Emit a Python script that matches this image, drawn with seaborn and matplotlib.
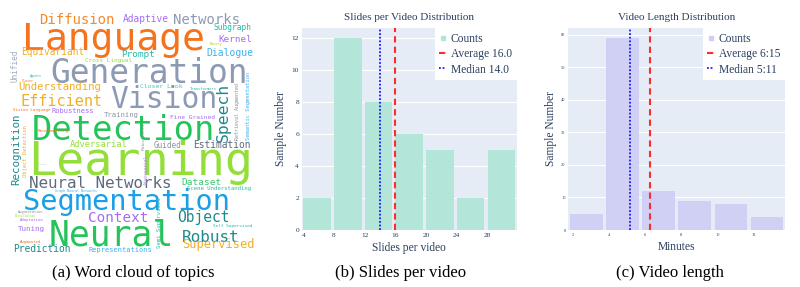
import numpy as np
import pandas as pd
import matplotlib
matplotlib.use("Agg")
import matplotlib.pyplot as plt
import seaborn as sns
from matplotlib.lines import Line2D

sns.set_theme(style="white")

# ---------------- data ----------------
slides_edges = [3.8, 7.8, 11.8, 15.8, 19.8, 23.8, 27.8, 31.8]
slides_counts = [2, 12, 8, 6, 5, 2, 5]
slides_avg = 16.0
slides_median = 14.0
slides_xticks = [4, 8, 12, 16, 20, 24, 28]
slides_yticks = [0, 2, 4, 6, 8, 10, 12]

length_edges = [1.75, 3.75, 5.75, 7.75, 9.75, 11.75, 13.75]
length_counts = [5, 59, 12, 9, 8, 4]
length_avg = 6.25      # 6:15
length_median = 5 + 11 / 60  # 5:11
length_xticks = [2, 4, 6, 8, 10, 12]
length_yticks = [0, 10, 20, 30, 40, 50, 60]

words = ["Language", "Generation", "Learning", "Detection", "Segmentation", "Neural",
         "Vision", "Neural Networks", "Diffusion", "Networks", "Efficient", "Speech",
         "Robust", "Object", "Context", "Supervised", "Understanding", "Recognition",
         "Equivariant", "Dialogue", "Prompt", "Kernel", "Adaptive", "Estimation",
         "Prediction", "Adversarial", "Dataset", "Guided", "Subgraph", "Training",
         "Robustness", "Representations", "Tuning", "Closer Look", "Fine Grained",
         "Cross Lingual", "Scene Understanding", "Unified", "Semantic Segmentation",
         "Retrieval Augmented", "Semi Supervised", "Object Detection", "Self Supervised",
         "Vision Language", "Benchmarking", "Transformers", "Graph Neural Networks",
         "Binary", "Agents", "Closer", "Active", "Augmentation", "Distillation",
         "Adaptation", "Augmented", "Robustness", "Adversarial"]

# ---------------- word cloud layout (pixel space of panel a) ----------------
OR = "#f4731c"; OR2 = "#f58a2c"; GB = "#8c9ab3"; LI = "#94de3a"; GR = "#24c45a"
BL = "#1a9fe8"; PU = "#a46cf2"; TE = "#26b8ae"; YE = "#f0ae26"; LB = "#3cb2f0"
DT = "#1f8a8c"; DG = "#5d6a7e"; GY = "#8a93a0"
word_layout = [
    (21.7, 50, 183, 0, OR), (50, 83, 198, 0, GB), (28.3, 175, 225, 0, LI),
    (31.7, 140, 183, 0, GR), (23.3, 210, 207, 0, BL), (48.3, 245, 125, 0, GR),
    (110, 107.5, 107, 0, GB), (29.3, 188.3, 144, 0, DG), (39.3, 24, 76, 0, OR2),
    (173, 24, 67, 0, GB), (20, 106, 82, 0, YE), (228, 141.7, 59, 90, DT),
    (181.7, 241.7, 58, 0, DT), (176.7, 221.7, 53, 0, DT), (88.3, 221.7, 60, 0, PU),
    (181.7, 248.3, 72, 0, YE), (18.3, 90, 83, 0, YE), (19, 185, 72, 90, DT),
    (20.7, 55, 63, 0, YE), (206, 55.7, 47, 0, LB), (120.7, 56.7, 34, 0, TE),
    (218, 41.7, 34, 0, PU), (122.7, 21.7, 46, 0, PU), (193.3, 148.3, 58, 0, DG),
    (13.3, 252.3, 58, 0, DT), (70, 146.7, 58, 0, LI), (181.7, 185, 40, 0, "#3cc86e"),
    (153.3, 148.3, 28, 0, GY), (213, 30, 38, 0, TE), (103.3, 117, 35, 0, GY),
    (51.7, 113.3, 43, 0, PU), (88.3, 251.7, 63, 0, LB), (18.3, 231, 27, 0, PU),
    (140, 88, 42, 0, "#4cc2c0"), (170, 119.3, 45, 0, PU), (85, 62.3, 47, 0, LI),
    (186.7, 190, 65, 0, TE), (17, 81.7, 32, 90, "#a0aac0"), (250, 140, 68, 90, LB),
    (239, 140, 57, 90, GY), (161, 248.3, 51, 90, TE), (27, 176.7, 52, 90, YE),
    (213.3, 226.7, 39, 0, TE), (12.7, 110.5, 37, 0, OR), (38, 131.7, 32, 0, OR),
    (190, 90, 27, 0, TE), (55, 191.7, 43, 0, LB), (210, 44.5, 13, 0, "#b8d02a"),
    (30, 76.5, 12, 0, TE), (21.7, 82, 12, 0, OR), (38, 165, 9, 0, "#b0b8c4"),
    (18, 213, 25, 0, GY), (15, 216.7, 22, 0, LI), (20, 221, 23, 0, PU),
    (20, 242.7, 22, 0, OR), (145, 150, 27, 90, "#9a90b0"), (147.5, 185, 30, 90, "#b090e0"),
]

FIG_W, FIG_H = 800, 287
fig = plt.figure(figsize=(8.0, 2.87), dpi=100)

serif = ["Liberation Serif", "DejaVu Serif"]
txt_col = "#2a3f5f"

# ---------------- panel a: word cloud ----------------
axa = fig.add_axes([0, (FIG_H - 260) / FIG_H, 270 / FIG_W, 260 / FIG_H])
axa.set_xlim(0, 270)
axa.set_ylim(260, 0)
axa.axis("off")
for w, (x, y, wid, rot, col) in zip(words, word_layout):
    fs = wid / len(w) / 0.602 * 72 / 100
    axa.text(x, y, w, fontsize=fs, color=col, family="DejaVu Sans Mono",
             rotation=rot, rotation_mode="anchor", ha="left", va="baseline")


def hist_panel(rect, edges, counts, avg, med, xticks, yticks, ylim, color,
               title, xlabel, avg_lbl, med_lbl, tick_fs):
    ax = fig.add_axes(rect)
    centers = [(edges[i] + edges[i + 1]) / 2 for i in range(len(counts))]
    df = pd.DataFrame({"x": centers, "n": counts})
    sns.histplot(data=df, x="x", weights="n", bins=edges, shrink=0.9, color=color,
                 alpha=1, edgecolor="none", linewidth=0, ax=ax)
    ax.set_facecolor("#e5ecf6")
    ax.grid(axis="y", color="white", linewidth=0.8)
    ax.set_axisbelow(True)
    for s in ax.spines.values():
        s.set_visible(False)
    ax.set_xlim(edges[0], edges[-1])
    ax.set_ylim(*ylim)
    ax.set_xticks(xticks)
    ax.set_yticks(yticks)
    ax.tick_params(length=0, labelsize=tick_fs, labelcolor=txt_col, pad=2)
    for lab in ax.get_xticklabels() + ax.get_yticklabels():
        lab.set_family(serif)
    ax.axvline(med, color="#1a1aff", linestyle=(0, (1, 1)), linewidth=1.3)
    ax.axvline(avg, color="#ff2a2a", linestyle=(0, (3, 2)), linewidth=1.5)
    ax.set_title(title, fontsize=8, color=txt_col, family=serif, pad=6)
    ax.set_xlabel(xlabel, fontsize=8.3, color=txt_col, family=serif, labelpad=3)
    ax.set_ylabel("Sample Number", fontsize=8.3, color=txt_col, family=serif, labelpad=3)
    handles = [
        Line2D([], [], marker="s", markersize=2.5, linestyle="none", color=color),
        Line2D([], [], color="#ff2a2a", linestyle=(0, (3, 2)), linewidth=1.5),
        Line2D([], [], color="#1a1aff", linestyle=(0, (1, 1)), linewidth=1.3),
    ]
    leg = ax.legend(handles, ["Counts", avg_lbl, med_lbl], loc="upper right",
                    borderaxespad=0, frameon=True, fancybox=False, framealpha=1,
                    facecolor="white", edgecolor="none", handlelength=0.6,
                    handletextpad=0.4, labelspacing=0.3, borderpad=0.4,
                    prop={"family": serif, "size": 8.3})
    for t in leg.get_texts():
        t.set_color(txt_col)
    return ax


hist_panel([301.7 / FIG_W, (FIG_H - 230) / FIG_H, 215 / FIG_W, 202 / FIG_H],
           slides_edges, slides_counts, slides_avg, slides_median,
           slides_xticks, slides_yticks, (0, 12.6), "#b3e6d8",
           "Slides per Video Distribution", "Slides per video",
           "Average 16.0", "Median 14.0", 5.3)

hist_panel([568.3 / FIG_W, (FIG_H - 230) / FIG_H, 216.7 / FIG_W, 202 / FIG_H],
           length_edges, length_counts, length_avg, length_median,
           length_xticks, length_yticks, (0, 62), "#d0d0f4",
           "Video Length Distribution", "Minutes",
           "Average 6:15", "Median 5:11", 3.2)

# ---------------- captions ----------------
for cx, cap in [(133, "(a) Word cloud of topics"), (401, "(b) Slides per video"),
                (670, "(c) Video length")]:
    fig.text(cx / FIG_W, 1 - 273 / FIG_H, cap, ha="center", va="center",
             fontsize=12, family=serif, color="black")

fig.savefig("out.png", dpi=100, facecolor="white")
